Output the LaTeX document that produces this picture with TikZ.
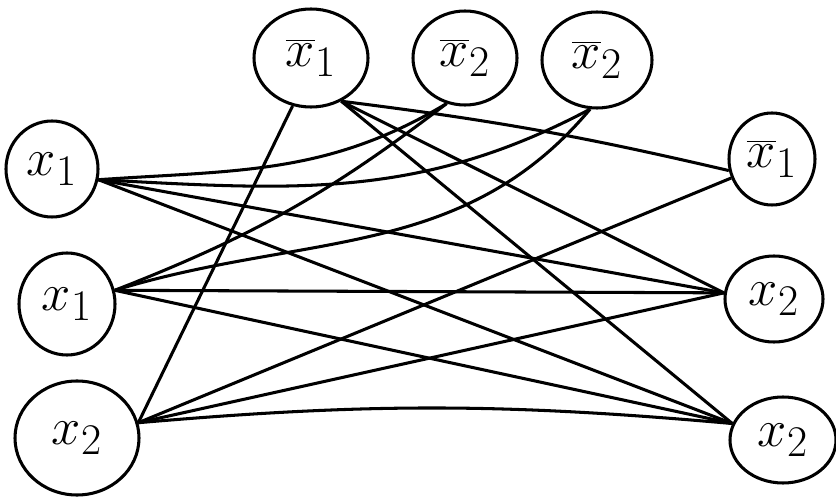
\documentclass[tikz,border=0pt]{standalone}
\usepackage{graphicx}
\usetikzlibrary{shapes.geometric}
\newcommand{\bigvar}[1]{\scalebox{1.8}{$#1$}}
\begin{document}
\begin{tikzpicture}[x=0.03cm, y=0.03cm,
 bubble/.style 2 args={draw, ellipse, line width=2.6pt, inner sep=0pt,
   minimum width=#1*0.3mm, minimum height=#2*0.3mm, font=\Huge},
 link/.style={line width=2.6pt}]
\useasboundingbox (0,0) rectangle (836,496);
\node[bubble={114}{98}] (top1) at (311,438) {\bigvar{\overline{x}_1}};
\node[bubble={104}{94}] (top2) at (465,438) {\bigvar{\overline{x}_2}};
\node[bubble={110}{96}] (top3) at (597,436) {\bigvar{\overline{x}_2}};
\node[bubble={92}{96}] (left1) at (52,327) {\bigvar{x_1}};
\node[bubble={96}{102}] (left2) at (67,192) {\bigvar{x_1}};
\node[bubble={124}{114}] (left3) at (77,58) {\bigvar{x_2}};
\node[bubble={86}{92}] (right1) at (772,337) {\bigvar{\overline{x}_1}};
\node[bubble={98}{86}] (right2) at (774,197) {\bigvar{x_2}};
\node[bubble={106}{86}] (right3) at (783,56) {\bigvar{x_2}};
\draw[link] (left1.-13) to[out=4, in=-149] (top2.-112);
\draw[link] (left1.-13) to[out=-3, in=-152] (top3.-98);
\draw[link] (left1.-13) -- (right2.173);
\draw[link] (left1.-13) -- (right3.162);
\draw[link] (left2.16) to[bend right=8] (top2.-112);
\draw[link] (left2.16) to[out=17, in=-130] (top3.-98);
\draw[link] (left2.16) -- (right2.173);
\draw[link] (left2.16) -- (right3.162);
\draw[link] (left3.14) -- (top1.-111);
\draw[link] (left3.14) -- (right1.205);
\draw[link] (left3.14) -- (right2.173);
\draw[link] (left3.14) to[bend left=5] (right3.162);
\draw[link] (top1.-55) to[bend left=3] (right1.195);
\draw[link] (top1.-55) -- (right2.173);
\draw[link] (top1.-55) -- (right3.162);
\end{tikzpicture}
\end{document}
